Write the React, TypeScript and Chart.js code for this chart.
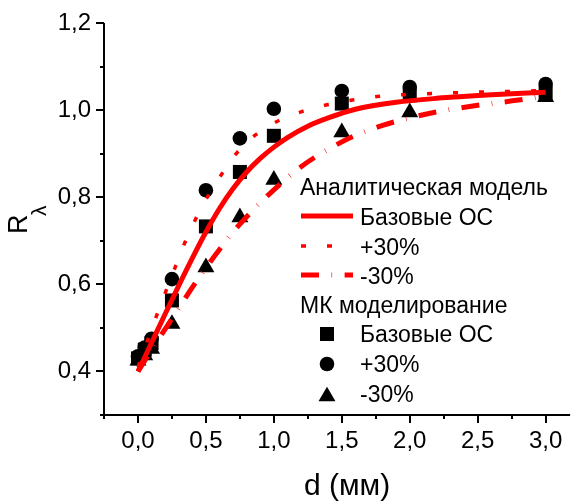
import React, { useEffect, useRef } from 'react';
import { Chart, registerables } from 'chart.js';

Chart.register(...registerables);

const FONT = "'Liberation Sans', Arial, sans-serif";
const RED = '#ff0000';

// Analytic model curves (d in mm, R_lambda)
const baseCurveX = [0, 0.1, 0.2, 0.3, 0.4, 0.5, 0.6, 0.7, 0.8, 0.9, 1.0, 1.1, 1.25, 1.4, 1.6, 1.9, 2.2, 2.6, 3.0];
const baseCurveY = [0.40, 0.466, 0.532, 0.597, 0.66, 0.72, 0.774, 0.82, 0.858, 0.889, 0.915, 0.937, 0.963, 0.982, 1.002, 1.018, 1.027, 1.035, 1.041];

const plusCurveX = [0, 0.13, 0.2, 0.27, 0.34, 0.42, 0.51, 0.61, 0.72, 0.86, 1.03, 1.21, 1.4, 1.59, 1.78, 2.0, 2.35, 2.75, 3.0];
const plusCurveY = [0.41, 0.522, 0.58, 0.636, 0.692, 0.747, 0.80, 0.85, 0.899, 0.942, 0.975, 0.997, 1.013, 1.024, 1.032, 1.036, 1.040, 1.043, 1.045];

const minusCurveX = [0, 0.1, 0.2, 0.3, 0.4, 0.5, 0.6, 0.7, 0.8, 0.9, 1.0, 1.2, 1.4, 1.6, 1.8, 2.0, 2.2, 2.5, 2.8, 3.0];
const minusCurveY = [0.40, 0.45, 0.497, 0.545, 0.593, 0.638, 0.68, 0.72, 0.755, 0.787, 0.817, 0.87, 0.91, 0.942, 0.965, 0.982, 0.996, 1.011, 1.023, 1.033];

// Monte Carlo points
const mcX = [0, 0.05, 0.1, 0.25, 0.5, 0.75, 1.0, 1.5, 2.0, 3.0];
const mcBase = [0.43, 0.45, 0.465, 0.563, 0.733, 0.858, 0.941, 1.015, 1.034, 1.04];
const mcPlus = [0.435, 0.455, 0.475, 0.612, 0.816, 0.935, 1.003, 1.044, 1.053, 1.06];
const mcMinus = [0.425, 0.437, 0.452, 0.509, 0.639, 0.754, 0.84, 0.949, 0.995, 1.03];

// Axes
const xMajorTicks = [0, 0.5, 1.0, 1.5, 2.0, 2.5, 3.0];
const xMinorTicks = [-0.25, 0.25, 0.75, 1.25, 1.75, 2.25, 2.75];
const yMajorTicks = [0.4, 0.6, 0.8, 1.0, 1.2];
const yMinorTicks = [0.3, 0.5, 0.7, 0.9, 1.1];
const xMin = -0.25;
const xMax = 3.18;
const yMin = 0.3;
const yMax = 1.2;

const xTitle = 'd (мм)';
const yTitleMain = 'R';
const yTitleSub = 'λ';
const legendHeader1 = 'Аналитическая модель';
const legendHeader2 = 'МК моделирование';
const seriesNames = ['Базовые ОС', '+30%', '-30%'];

const pts = (xs: number[], ys: number[]) => xs.map((x, i) => ({ x, y: ys[i] }));
const fmt = (v: number) => v.toFixed(1).replace('.', ',');

const DOT_DASH = [5, 21];
const DASH_DASH = [18, 12.5, 0.6, 12.5];

const decor = {
  id: 'decor',
  afterDraw(chart: any) {
    const ctx = chart.ctx as CanvasRenderingContext2D;
    const xs = chart.scales.x;
    const ys = chart.scales.y;
    const ca = chart.chartArea;
    ctx.save();
    ctx.strokeStyle = '#000';
    ctx.fillStyle = '#000';
    ctx.lineWidth = 2;
    ctx.setLineDash([]);
    ctx.beginPath();
    ctx.moveTo(ca.left, ca.top);
    ctx.lineTo(ca.left, ca.bottom + 1);
    ctx.moveTo(ca.left - 1, ca.bottom);
    ctx.lineTo(ca.right, ca.bottom);
    ctx.stroke();
    ctx.beginPath();
    xMajorTicks.forEach((v) => {
      const p = Math.round(xs.getPixelForValue(v));
      ctx.moveTo(p, ca.bottom);
      ctx.lineTo(p, ca.bottom + 8);
    });
    xMinorTicks.forEach((v) => {
      const p = Math.round(xs.getPixelForValue(v));
      ctx.moveTo(p, ca.bottom);
      ctx.lineTo(p, ca.bottom + 4);
    });
    yMajorTicks.forEach((v) => {
      const p = Math.round(ys.getPixelForValue(v));
      ctx.moveTo(ca.left, p);
      ctx.lineTo(ca.left - 8, p);
    });
    yMinorTicks.forEach((v) => {
      const p = Math.round(ys.getPixelForValue(v));
      ctx.moveTo(ca.left, p);
      ctx.lineTo(ca.left - 4, p);
    });
    ctx.stroke();

    // axis titles
    ctx.font = `30px ${FONT}`;
    ctx.textAlign = 'center';
    ctx.textBaseline = 'alphabetic';
    ctx.fillText(xTitle, 347, 495);

    ctx.save();
    ctx.translate(27, 234);
    ctx.rotate(-Math.PI / 2);
    ctx.textAlign = 'left';
    ctx.font = `27px ${FONT}`;
    ctx.fillText(yTitleMain, 0, 0);
    ctx.font = `21px ${FONT}`;
    ctx.fillText(yTitleSub, 18, 19);
    ctx.restore();

    // legend
    ctx.font = `23px ${FONT}`;
    ctx.textAlign = 'left';
    ctx.fillText(legendHeader1, 300, 195);
    const lineRows = [216, 246, 275];
    const lineDashes = [[], DOT_DASH, DASH_DASH];
    const lineWidths = [5, 3.5, 5];
    lineRows.forEach((y, i) => {
      ctx.save();
      ctx.strokeStyle = RED;
      ctx.lineWidth = lineWidths[i];
      ctx.setLineDash(lineDashes[i]);
      ctx.beginPath();
      ctx.moveTo(301, y);
      ctx.lineTo(353, y);
      ctx.stroke();
      ctx.restore();
      ctx.fillText(seriesNames[i], 360, y + 9);
    });
    ctx.fillText(legendHeader2, 300, 313);
    const markRows = [334, 364, 394];
    markRows.forEach((y, i) => {
      ctx.beginPath();
      if (i === 0) {
        ctx.rect(327 - 7, y - 7, 14, 14);
      } else if (i === 1) {
        ctx.arc(327, y, 7.3, 0, Math.PI * 2);
      } else {
        const r = 9.8;
        ctx.moveTo(327, y - r * 0.75);
        ctx.lineTo(327 + r * 0.866, y + r * 0.75);
        ctx.lineTo(327 - r * 0.866, y + r * 0.75);
        ctx.closePath();
      }
      ctx.fill();
      ctx.fillText(seriesNames[i], 360, y + 8);
    });
    ctx.restore();
  },
};

export default function App() {
  const ref = useRef<HTMLCanvasElement | null>(null);
  useEffect(() => {
    if (!ref.current) return;
    const lineDs = (data: any, dash: number[], width: number) => ({
      type: 'line',
      data,
      borderColor: RED,
      backgroundColor: RED,
      borderWidth: width,
      borderDash: dash,
      borderCapStyle: 'butt',
      pointRadius: 0,
      fill: false,
      cubicInterpolationMode: 'monotone',
      clip: false,
    });
    const markDs = (data: any, style: string, r: number) => ({
      type: 'scatter',
      data,
      pointStyle: style,
      pointRadius: r,
      backgroundColor: '#000',
      borderColor: '#000',
      borderWidth: 0,
      showLine: false,
      clip: false,
    });
    const chart = new Chart(ref.current, {
      type: 'scatter',
      data: {
        datasets: [
          lineDs(pts(baseCurveX, baseCurveY), [], 5),
          lineDs(pts(minusCurveX, minusCurveY), DASH_DASH, 5),
          lineDs(pts(plusCurveX, plusCurveY), DOT_DASH, 3.5),
          markDs(pts(mcX, mcBase), 'rect', 9.9),
          markDs(pts(mcX, mcPlus), 'circle', 7.3),
          markDs(pts(mcX, mcMinus), 'triangle', 9.8),
        ] as any,
      },
      options: {
        animation: false,
        responsive: false,
        devicePixelRatio: 1,
        layout: { padding: { top: 23, right: 0, left: 0, bottom: 0 } },
        plugins: { legend: { display: false }, tooltip: { enabled: false } },
        scales: {
          x: {
            type: 'linear',
            min: xMin,
            max: xMax,
            afterBuildTicks: (s: any) => {
              s.ticks = xMajorTicks.map((v) => ({ value: v }));
            },
            afterFit: (s: any) => {
              s.height = 87;
              s.paddingLeft = 0;
              s.paddingRight = 0;
              s.paddingTop = 0;
              s.paddingBottom = 0;
            },
            grid: { display: false, drawTicks: false },
            border: { display: false },
            ticks: {
              color: '#000',
              font: { family: FONT, size: 24 },
              padding: 12,
              maxRotation: 0,
              autoSkip: false,
              callback: (v: any) => fmt(Number(v)),
            },
          },
          y: {
            type: 'linear',
            min: yMin,
            max: yMax,
            afterBuildTicks: (s: any) => {
              s.ticks = yMajorTicks.map((v) => ({ value: v }));
            },
            afterFit: (s: any) => {
              s.width = 104;
              s.paddingLeft = 0;
              s.paddingRight = 0;
              s.paddingTop = 0;
              s.paddingBottom = 0;
            },
            grid: { display: false, drawTicks: false },
            border: { display: false },
            ticks: {
              color: '#000',
              font: { family: FONT, size: 24 },
              padding: 13,
              autoSkip: false,
              callback: (v: any) => fmt(Number(v)),
            },
          },
        },
      } as any,
      plugins: [decor],
    });
    return () => chart.destroy();
  }, []);
  return (
    <div style={{ position: 'fixed', left: 0, top: 0, width: 580, height: 502, background: '#fff' }}>
      <canvas ref={ref} width={580} height={502} style={{ width: 580, height: 502, display: 'block' }} />
    </div>
  );
}
